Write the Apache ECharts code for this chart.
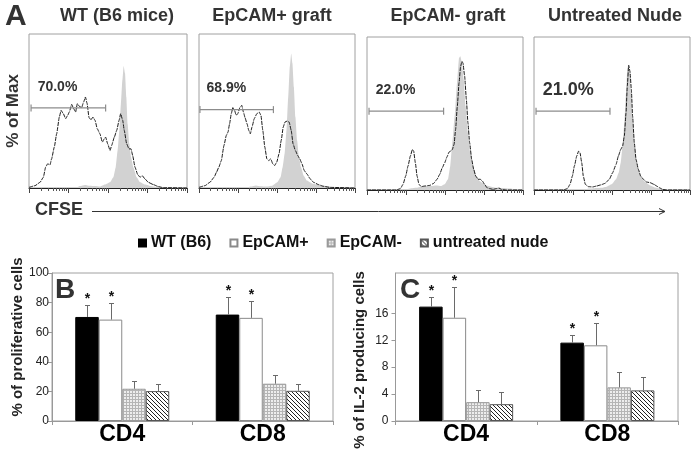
<!DOCTYPE html>
<html><head><meta charset="utf-8">
<script src="https://cdn.jsdelivr.net/npm/echarts@6/dist/echarts.min.js"></script>
<style>html,body{margin:0;padding:0;background:#fff}#c{width:695px;height:454px}</style>
</head><body><div id="c"></div>
<script>
// ---------- Panel A: CFSE histograms (x: position along log CFSE axis 0-100, y: % of max) ----------
const histTitles = ['WT (B6 mice)', 'EpCAM+ graft', 'EpCAM- graft', 'Untreated Nude'];
const gateLabels = ['70.0%', '68.9%', '22.0%', '21.0%'];
const gateStart = [1.3, 0.6, 1.3, 1.3];
const gateEnd = [48.5, 47.7, 49.1, 48.7];
const gateLevel = [52.0, 50.9, 51.5, 51.5];
const decades = [0, 1, 2, 3];

const wtSample = [[0,0.4],[3.8,1.5],[7.0,3.7],[9.1,7.0],[10.5,13.5],[11.8,15.7],[13.3,15.0],[14.3,18.9],[16.0,26.5],[17.5,35.2],[19.2,46.1],[20.3,50.4],[21.7,48.3],[23.2,45.0],[24.5,47.2],[25.5,49.3],[27.0,54.3],[28.3,51.5],[29.5,49.3],[30.6,54.8],[31.9,53.0],[33.3,52.2],[34.6,55.9],[35.7,59.1],[36.7,55.2],[38.0,45.7],[39.2,44.3],[40.5,46.1],[41.8,43.9],[43.2,38.5],[44.9,35.2],[46.4,29.8],[47.7,32.0],[48.5,33.0],[49.8,28.7],[51.3,24.3],[52.3,27.6],[54.0,33.0],[55.5,37.4],[57.0,43.9],[58.0,48.3],[59.3,43.9],[60.3,37.4],[61.8,28.7],[63.3,25.4],[64.6,25.4],[65.6,21.1],[67.1,13.5],[68.8,8.7],[70.3,7.0],[71.7,8.0],[73.4,5.9],[75.5,3.7],[78.7,2.2],[81.9,0.9],[85.0,0.2],[100,0]];
const wtControl = [[0,0],[29.1,0],[32.3,1.3],[35.4,2.0],[38.6,1.5],[41.8,1.3],[44.9,0.9],[48.1,2.2],[51.3,3.7],[53.4,7.0],[54.9,13.5],[56.1,24.3],[57.2,37.4],[58.2,54.8],[59.1,70.0],[59.9,79.3],[60.8,74.3],[61.6,59.1],[62.4,41.7],[63.5,28.7],[64.6,20.0],[66.0,13.5],[68.1,7.0],[70.3,3.7],[73.4,2.2],[77.6,1.1],[81.9,0.4],[86.1,0],[100,0]];

const posSample = [[0,0.4],[3.8,1.5],[7.0,3.7],[9.7,7.0],[11.2,10.2],[12.7,13.5],[14.3,17.8],[16.0,27.6],[17.5,34.1],[18.6,36.3],[19.6,41.7],[20.7,48.3],[21.7,52.2],[22.8,50.4],[23.8,47.2],[24.9,48.3],[26.2,52.2],[27.4,53.7],[28.5,49.3],[29.5,45.7],[30.8,41.7],[31.9,37.4],[32.9,35.2],[34.0,39.6],[35.4,45.0],[37.1,48.3],[38.6,49.3],[39.7,47.2],[40.9,37.4],[42.2,26.5],[43.5,18.9],[44.7,17.8],[46.0,18.9],[47.3,15.7],[48.5,14.6],[49.8,16.7],[51.3,22.2],[52.7,30.9],[54.0,39.6],[55.1,42.8],[56.5,43.5],[57.8,42.8],[59.1,37.4],[60.3,28.7],[61.8,24.3],[63.3,21.1],[64.6,18.9],[66.0,15.7],[67.5,11.3],[69.2,9.1],[71.3,5.9],[73.4,3.7],[76.6,2.2],[79.7,1.1],[84.0,0.4],[100,0]];
const posControl = [[0,0],[29.1,0],[33.3,0.9],[36.5,1.7],[39.7,1.1],[42.8,0.9],[47.0,1.5],[50.2,3.7],[52.3,7.0],[53.6,13.5],[54.9,22.2],[56.1,37.4],[57.2,59.1],[58.2,78.7],[59.1,87.4],[59.9,80.9],[60.8,65.7],[61.8,46.1],[62.9,30.9],[64.1,20.0],[65.4,13.5],[67.1,8.0],[69.2,4.8],[72.4,3.0],[75.5,2.2],[78.7,1.7],[81.9,1.3],[86.1,0.4],[90.3,0],[100,0]];

const negSample = [[0,0],[18.8,0],[21.4,0.9],[23.1,3.7],[24.8,9.1],[26.3,15.7],[27.8,22.2],[29.1,26.5],[29.9,25.4],[31.0,17.8],[32.1,9.1],[33.3,3.7],[34.8,2.2],[37.0,2.6],[40.2,3.0],[42.7,4.3],[44.9,7.0],[46.6,10.2],[48.3,14.6],[49.8,17.8],[51.3,21.7],[52.6,24.8],[53.6,25.4],[54.7,26.5],[55.8,29.8],[56.8,39.6],[57.9,54.8],[59.0,70.0],[60.0,80.9],[60.9,84.1],[61.5,83.0],[62.6,74.3],[63.7,59.1],[64.7,43.9],[65.8,30.9],[67.1,20.0],[68.4,13.5],[69.7,9.1],[71.2,7.0],[72.6,7.0],[73.9,5.9],[75.4,3.7],[76.9,1.5],[78.6,0.9],[80.8,0.4],[82.9,0.9],[84.6,1.3],[86.1,0.4],[89.3,0],[100,0]];
const negControl = [[0,0],[22.0,0],[25.2,0.4],[28.4,1.1],[31.6,1.5],[34.8,2.2],[38.0,2.6],[41.2,2.6],[44.4,3.0],[47.6,2.6],[49.8,3.7],[51.9,7.0],[53.4,15.7],[54.7,30.9],[56.2,48.3],[57.7,70.0],[59.0,86.3],[59.8,87.4],[60.7,84.1],[62.0,72.2],[63.2,54.8],[64.7,37.4],[66.2,24.3],[67.9,15.7],[70.1,9.1],[72.2,5.9],[74.4,4.3],[76.5,3.0],[79.7,2.2],[82.9,1.5],[87.2,1.3],[91.5,0.9],[95.7,0.4],[100,0]];

const nudeSample = [[0,0],[18.8,0],[21.4,0.9],[23.1,3.7],[24.6,9.1],[25.9,15.7],[27.4,22.2],[28.6,25.4],[29.5,24.3],[30.6,17.8],[31.6,9.1],[32.9,3.7],[34.8,2.2],[37.6,2.0],[40.2,2.6],[42.7,3.3],[45.5,4.3],[48.3,7.0],[50.4,11.3],[52.6,16.7],[54.1,22.2],[55.6,26.5],[56.8,28.7],[57.9,35.2],[59.0,50.4],[59.8,67.8],[60.7,81.5],[61.5,77.6],[62.4,65.7],[63.2,48.3],[64.3,30.9],[65.4,20.0],[66.9,13.5],[68.4,9.1],[70.1,7.0],[72.2,5.2],[74.4,4.8],[76.9,3.7],[78.6,2.6],[80.3,1.5],[82.5,0.4],[85.0,0],[100,0]];
const nudeControl = [[0,0],[23.1,0],[27.4,0.2],[31.6,0.4],[35.9,0.9],[40.2,1.3],[43.4,1.5],[46.6,2.2],[49.8,3.7],[52.6,7.0],[54.3,11.3],[55.6,17.8],[56.8,28.7],[57.9,43.9],[59.0,63.5],[59.8,78.7],[60.5,82.0],[61.1,78.7],[62.2,63.5],[63.2,43.9],[64.3,28.7],[65.4,20.0],[66.9,13.5],[69.0,8.0],[71.2,5.2],[74.4,3.0],[77.6,1.7],[80.8,0.9],[84.0,0.2],[87.2,0],[100,0]];

// ---------- Panels B & C: bar charts ----------
const groups = ['CD4', 'CD8'];
const groupNames = ['WT (B6)', 'EpCAM+', 'EpCAM-', 'untreated nude'];
const prolifMean = [[70.3, 71.9], [68.5, 69.7], [21.8, 25.2], [20.2, 20.4]];
const prolifErr  = [[8.4, 11.7], [11.0, 11.2], [5.2, 5.8], [4.5, 4.3]];
const prolifSig  = [[1, 1], [1, 1], [0, 0], [0, 0]];
const il2Mean = [[17.0, 11.65], [15.35, 11.25], [2.8, 5.0], [2.5, 4.55]];
const il2Err  = [[1.4, 1.1], [4.5, 3.3], [1.85, 2.35], [1.85, 1.95]];
const il2Sig  = [[1, 1], [1, 1], [0, 0], [0, 0]];
const prolifTicks = [0, 20, 40, 60, 80, 100];
const il2Ticks = [0, 4, 8, 12, 16];

// ---------- styling ----------
const FONT = '"Liberation Sans", Arial, Helvetica, sans-serif';
const BARW = 23.5;
const samples = [wtSample, posSample, negSample, nudeSample];
const controls = [wtControl, posControl, negControl, nudeControl];
const histGrids = [
  {left: 29, top: 34, width: 158, height: 154},
  {left: 199, top: 34, width: 156, height: 154},
  {left: 367, top: 37, width: 156, height: 153},
  {left: 534, top: 37, width: 156, height: 153}
];
const titleX = [117, 272, 448, 615];
const gateFont = [14, 14, 14, 18];

const majorTicks = decades.map(d => d * 25).concat([100]);
const minorTicks = [];
decades.forEach(d => { for (let k = 2; k <= 9; k++) minorTicks.push(25 * (d + Math.log10(k))); });

function patternCanvas(kind) {
  const c = document.createElement('canvas');
  if (kind === 'grid') {
    c.width = 3; c.height = 3;
    const g = c.getContext('2d');
    g.fillStyle = '#ededed'; g.fillRect(0, 0, 3, 3);
    g.fillStyle = '#b5b5b5'; g.fillRect(0, 0, 3, 1); g.fillRect(0, 0, 1, 3);
  } else {
    c.width = 4; c.height = 4;
    const g = c.getContext('2d');
    g.fillStyle = '#ffffff'; g.fillRect(0, 0, 4, 4);
    g.fillStyle = '#222222';
    for (let i = 0; i < 4; i++) g.fillRect(i, i, 1, 1);
  }
  return c;
}
const barStyles = [
  {color: '#000000', borderColor: '#000000', borderWidth: 1},
  {color: '#ffffff', borderColor: '#8a8a8a', borderWidth: 1},
  {color: {image: patternCanvas('grid'), repeat: 'repeat'}, borderColor: '#9a9a9a', borderWidth: 1},
  {color: {image: patternCanvas('hatch'), repeat: 'repeat'}, borderColor: '#555555', borderWidth: 1}
];

const grid = histGrids.map(g => Object.assign({show: true, borderColor: '#a0a0a0', borderWidth: 1, backgroundColor: 'transparent'}, g));
grid.push({left: 52, top: 273, width: 281, height: 148, show: true, borderColor: '#a0a0a0', borderWidth: 1});
grid.push({left: 395.5, top: 273, width: 282.5, height: 148, show: true, borderColor: '#a0a0a0', borderWidth: 1});

const xAxis = [];
const yAxis = [];
histGrids.forEach((g, i) => {
  xAxis.push({type: 'value', gridIndex: i, min: 0, max: 100,
    axisLine: {show: true, lineStyle: {color: '#222', width: 1}},
    axisTick: {show: true, inside: false, length: 3, customValues: minorTicks, lineStyle: {color: '#555'}},
    axisLabel: {show: false}, splitLine: {show: false}});
  xAxis.push({type: 'value', gridIndex: i, min: 0, max: 100, position: 'bottom',
    axisLine: {show: false},
    axisTick: {show: true, inside: false, length: 5, customValues: majorTicks, lineStyle: {color: '#444'}},
    axisLabel: {show: false}, splitLine: {show: false}});
  yAxis.push({type: 'value', gridIndex: i, min: 0, max: 100,
    axisLine: {show: false}, axisTick: {show: false}, axisLabel: {show: false}, splitLine: {show: false},
    name: i === 0 ? '% of Max' : '', nameLocation: 'middle', nameRotate: 90, nameGap: 7,
    nameTextStyle: {fontFamily: FONT, fontSize: 17, fontWeight: 'bold', color: '#333'}});
});
[4, 5].forEach((gi, k) => {
  xAxis.push({type: 'category', gridIndex: gi, data: groups,
    axisLine: {lineStyle: {color: '#999'}},
    axisTick: {show: true, length: 4, lineStyle: {color: '#999'}},
    axisLabel: {fontFamily: FONT, fontSize: 23, fontWeight: 'bold', color: '#000', margin: 2},
    splitLine: {show: false}});
  yAxis.push({type: 'value', gridIndex: gi, min: 0, max: k === 0 ? 100 : 22,
    axisLine: {show: true, lineStyle: {color: '#999'}},
    axisTick: {show: true, length: 4, customValues: k === 0 ? prolifTicks : il2Ticks, lineStyle: {color: '#999'}},
    axisLabel: {customValues: k === 0 ? prolifTicks : il2Ticks, fontFamily: FONT, fontSize: 12, color: '#222', margin: k === 0 ? 3 : 7},
    splitLine: {show: false},
    name: k === 0 ? '% of proliferative cells' : '% of IL-2 producing cells',
    nameLocation: 'middle', nameRotate: 90, nameGap: k === 0 ? 27 : 28,
    nameTextStyle: {fontFamily: FONT, fontSize: 15, fontWeight: 'bold', color: '#222',
      padding: k === 0 ? [0, 0, 0, 20] : [0, 26, 0, 0]}});
});

const series = [];
histGrids.forEach((g, i) => {
  series.push({type: 'line', xAxisIndex: 2 * i, yAxisIndex: i, data: controls[i],
    symbol: 'none', smooth: 0.15, smoothMonotone: 'x', silent: true, z: 2,
    lineStyle: {width: 0, color: '#d2d2d2'}, itemStyle: {color: '#d2d2d2'},
    areaStyle: {color: '#d2d2d2', opacity: 1}});
  series.push({type: 'line', xAxisIndex: 2 * i, yAxisIndex: i, data: samples[i],
    symbol: 'none', smooth: 0.15, smoothMonotone: 'x', silent: true, z: 3,
    lineStyle: {width: 1, color: '#1a1a1a', type: [4, 1]}, itemStyle: {color: '#1a1a1a'}});
  series.push({type: 'line', xAxisIndex: 2 * i, yAxisIndex: i, silent: true, z: 4,
    data: [
      {value: [gateStart[i], gateLevel[i]], label: {show: true, position: 'right', distance: 6, offset: [0, -21],
        formatter: gateLabels[i], fontFamily: FONT, fontSize: gateFont[i], fontWeight: 'bold', color: '#333'}},
      [gateEnd[i], gateLevel[i]]
    ],
    symbol: 'rect', symbolSize: [1.2, 7], showSymbol: true,
    lineStyle: {color: '#8c8c8c', width: 1.2}, itemStyle: {color: '#8c8c8c'}});
});

function addBars(xi, yi, means, errs, sigs) {
  groupNames.forEach((name, s) => {
    series.push({type: 'bar', name: name, xAxisIndex: xi, yAxisIndex: yi, data: means[s],
      barWidth: BARW, barGap: '0%', itemStyle: barStyles[s], silent: true, z: 2});
  });
  const errData = [];
  groupNames.forEach((name, s) => {
    groups.forEach((g, c) => errData.push([c, s, means[s][c], errs[s][c], sigs[s][c]]));
  });
  series.push({type: 'custom', name: 'err' + xi, xAxisIndex: xi, yAxisIndex: yi, data: errData,
    encode: {x: 0, y: 2}, silent: true, z: 5,
    renderItem: function (params, api) {
      const c = api.value(0), s = api.value(1), m = api.value(2), e = api.value(3), sig = api.value(4);
      const p0 = api.coord([c, m]);
      const p1 = api.coord([c, m + e]);
      const x = Math.round(p0[0] + (s - 1.5) * BARW) + 0.5;
      const yt = Math.round(p1[1]) + 0.5;
      const children = [
        {type: 'line', shape: {x1: x, y1: p0[1], x2: x, y2: yt}, style: {stroke: '#6a6a6a', lineWidth: 1}},
        {type: 'line', shape: {x1: x - 2.5, y1: yt, x2: x + 2.5, y2: yt}, style: {stroke: '#6a6a6a', lineWidth: 1}}
      ];
      if (sig) children.push({type: 'text', x: x, y: yt - 6,
        style: {text: '*', font: 'bold 14px ' + FONT, fill: '#111', align: 'center', verticalAlign: 'middle'}});
      return {type: 'group', children: children};
    }});
}
addBars(8, 4, prolifMean, prolifErr, prolifSig);
addBars(9, 5, il2Mean, il2Err, il2Sig);

const graphic = [
  {type: 'text', x: 5, y: 17, style: {text: 'A', font: '900 30px ' + FONT, fill: '#333', verticalAlign: 'middle'}},
  {type: 'text', x: 35, y: 210, style: {text: 'CFSE', font: 'bold 18px ' + FONT, fill: '#333', verticalAlign: 'middle'}},
  {type: 'line', shape: {x1: 92, y1: 211.5, x2: 665, y2: 211.5}, style: {stroke: '#333', lineWidth: 1}},
  {type: 'polyline', shape: {points: [[659, 208.5], [665, 211.5], [659, 214.5]]}, style: {stroke: '#333', lineWidth: 1, fill: null}},
  {type: 'text', x: 55, y: 290, style: {text: 'B', font: 'bold 28px ' + FONT, fill: '#333', verticalAlign: 'middle'}},
  {type: 'text', x: 400, y: 290, style: {text: 'C', font: 'bold 28px ' + FONT, fill: '#333', verticalAlign: 'middle'}}
];
histTitles.forEach((t, i) => graphic.push({type: 'text', x: titleX[i], y: 16,
  style: {text: t, font: 'bold 18px ' + FONT, fill: '#333', align: 'center', verticalAlign: 'middle'}}));

const chart = echarts.init(document.getElementById('c'), null, {renderer: 'canvas'});
chart.setOption({
  animation: false,
  backgroundColor: '#ffffff',
  textStyle: {fontFamily: FONT},
  legend: {data: groupNames, left: 138, top: 235, padding: 0, icon: 'rect', itemWidth: 7, itemHeight: 7, itemGap: 18,
    selectedMode: false,
    textStyle: {fontFamily: FONT, fontSize: 16, fontWeight: 'bold', color: '#111'}},
  grid: grid, xAxis: xAxis, yAxis: yAxis, series: series, graphic: graphic
});
</script></body></html>
